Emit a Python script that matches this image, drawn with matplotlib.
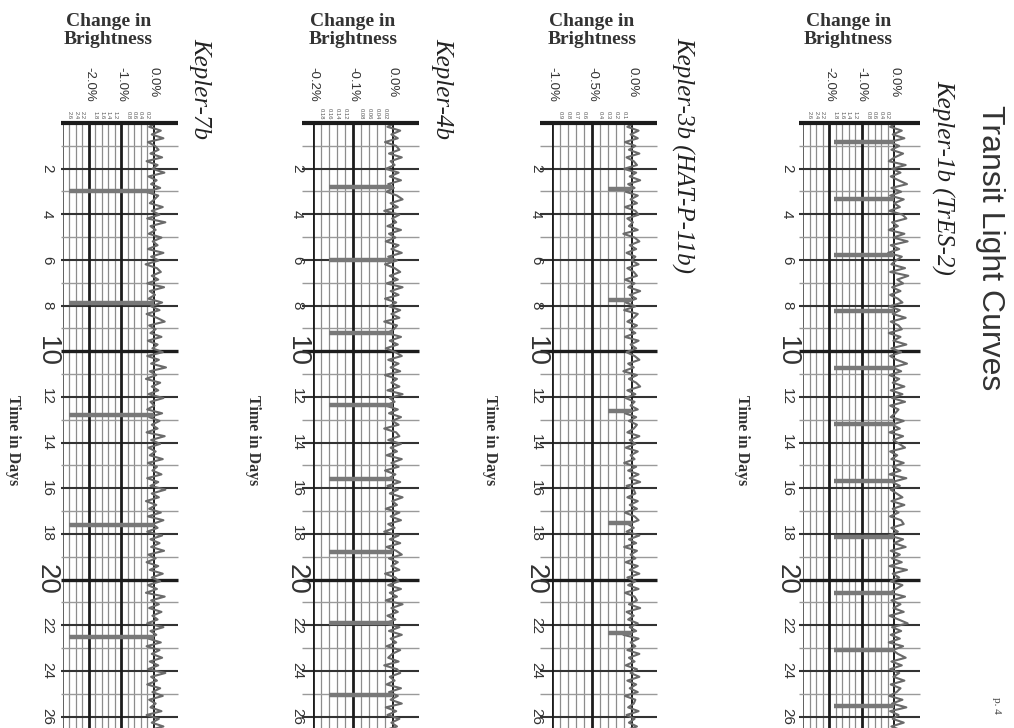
import numpy as np
import matplotlib.pyplot as plt

plt.rcParams['font.family'] = 'Liberation Sans'

# ---- data ----
planet_names = ['Kepler-7b', 'Kepler-4b', 'Kepler-3b (HAT-P-11b)', 'Kepler-1b (TrES-2)']
day_ticks = [2, 4, 6, 8, 10, 12, 14, 16, 18, 20, 22, 24, 26]

# transit mid-times (days) and transit depth (% change in brightness)
transits_7b = [3.0, 7.9, 12.8, 17.6, 22.5]
transits_4b = [2.8, 6.0, 9.2, 12.35, 15.6, 18.8, 21.9, 25.05]
transits_3b = [2.9, 7.75, 12.6, 17.5, 22.35]
transits_1b = [0.84, 3.31, 5.78, 8.25, 10.72, 13.19, 15.66, 18.13, 20.6, 23.07, 25.54]
depths = [-2.6, -0.16, -0.3, -1.85]

# major / minor brightness ticks (%)
major_7b = [-2.0, -1.0, 0.0]
major_4b = [-0.2, -0.1, 0.0]
major_3b = [-1.0, -0.5, 0.0]
major_1b = [-2.0, -1.0, 0.0]
major_labels_7b = ['-2.0%', '-1.0%', '0.0%']
major_labels_4b = ['-0.2%', '-0.1%', '0.0%']
major_labels_3b = ['-1.0%', '-0.5%', '0.0%']
major_labels_1b = ['-2.0%', '-1.0%', '0.0%']
minor_7b = [-2.6, -2.4, -2.2, -1.8, -1.6, -1.4, -1.2, -0.8, -0.6, -0.4, -0.2]
minor_4b = [-0.18, -0.16, -0.14, -0.12, -0.08, -0.06, -0.04, -0.02]
minor_3b = [-0.9, -0.8, -0.7, -0.6, -0.4, -0.3, -0.2, -0.1]
minor_1b = [-2.6, -2.4, -2.2, -1.8, -1.6, -1.4, -1.2, -0.8, -0.6, -0.4, -0.2]
minor_labels_7b = ['2.6', '2.4', '2.2', '1.8', '1.6', '1.4', '1.2', '0.8', '0.6', '0.4', '0.2']
minor_labels_4b = ['0.18', '0.16', '0.14', '0.12', '0.08', '0.06', '0.04', '0.02']
minor_labels_3b = ['0.9', '0.8', '0.7', '0.6', '0.4', '0.3', '0.2', '0.1']
minor_labels_1b = ['2.6', '2.4', '2.2', '1.8', '1.6', '1.4', '1.2', '0.8', '0.6', '0.4', '0.2']

# out-of-transit scatter, estimated (7b, 3b, 1b in 0.01 %, 4b in 0.001 %)
noise_7b = [8, -14, 22, -6, 30, -18, 4, 15, -10, 26, -22, 12, -4, 33, -16, 9, -8, 20, -24, 14,
            2, -12, 28, -6, 18, -20, 36, -10, 6, -15, 24, -3, 12, -18, 30, -8, 16, -25, 10, 22,
            -6, 14, -20, 32, -12, 4, -16, 26, -8, 18, -22, 10, 34, -14, 6, -10, 24, -18, 12, -4,
            28, -20, 16, -8, 38, -12, 8, -24, 20, -6, 14, -16, 30, -10, 2, -20, 26, -14, 18, -6,
            12, -22, 34, -8, 20, -16, 6, -12, 28, -18, 10, -4, 24, -20, 14, -10, 36, -6, 16, -24,
            8, -14, 22, -18, 30, -4, 12, -20, 26, -10, 18, -8, 32, -16, 6, -22, 14, -12, 28, -6,
            20, -18, 10, -24, 34, -8, 16, -14, 24, -4, 12, -20, 30, -10, 8, -16, 22, -22, 18, -6,
            26, -12, 14, -18, 36, -8, 10, -20, 20, -4, 28, -14, 6, -10, 24, -22, 16, -6, 30, -16]
noise_4b = [6, -14, 18, -4, 12, -20, 8, 16, -10, 22, -6, 4, -18, 14, -8, 20, -12, 2, -16, 10,
            24, -6, 12, -22, 16, -2, 8, -14, 20, -10, 6, -18, 14, -4, 22, -12, 10, -20, 4, 18,
            -8, 12, -16, 24, -6, 14, -20, 8, -10, 18, -4, 16, -22, 10, 2, -14, 20, -8, 12, -18,
            6, 22, -12, 14, -6, 18, -20, 10, -4, 16, -14, 24, -8, 4, -18, 12, -10, 20, -2, 14,
            -22, 8, 16, -12, 20, -6, 10, -16, 22, -4, 14, -20, 6, -10, 18, -14, 12, -8, 24, -2,
            10, -18, 16, -6, 20, -12, 4, -22, 14, -8, 18, -16, 8, 22, -10, 12, -4, 16, -20, 6,
            14, -12, 20, -8, 10, -18, 24, -4, 12, -14, 6, -20, 16, -10, 22, -6, 8, -16, 18, -2,
            -12, 14, -22, 10, 18, -8, 4, -16, 20, -10, 12, -6, 22, -18, 8, -14, 16, -4, 10, -20]
noise_3b = [3, -6, 8, -2, 7, -9, 4, -4, 9, -7, 2, 6, -10, 5, -3, 10, -5, 3, -8, 7,
            -2, 6, -9, 4, 8, -6, 1, -4, 7, -11, 3, 9, -3, 5, -7, 4, -1, 8, -6, 2,
            6, -9, 3, -5, 10, -3, 5, -8, 4, -10, 7, 2, -6, 6, -3, 4, -9, 8, -2, 5,
            -7, 3, 9, -5, 2, -11, 6, -4, 5, 10, -6, 4, -8, 3, -2, 7, -9, 5, -4, 6,
            2, -6, 9, -3, 4, -8, 7, -2, 3, -10, 5, -5, 8, -3, 10, -7, 2, 4, -6, 7,
            -3, 6, -9, 3, 8, -5, 2, -7, 9, -4, 5, -10, 6, -2, 4, -8, 7, -3, 9, -6,
            4, -5, 8, -9, 3, 6, -4, 10, -7, 2, -5, 7, -3, 5, -11, 8, -2, 4, -6, 9,
            -4, 3, -8, 6, -2, 9, -6, 5, -3, 7, -9, 4, 2, -5, 8, -7, 3, -4, 6, -8]
noise_1b = [10, -12, 24, -4, 32, -14, 16, -8, 28, 2, -16, 36, -6, 20, -10, 14, 40, -8, 22, -12,
            30, 0, 18, -14, 26, 38, -6, 12, -16, 32, -2, 42, -10, 16, -18, 24, 6, -8, 34, -12,
            44, 10, 28, -6, 20, -12, 12, 26, -14, 18, -4, 36, -10, 14, 24, -16, 20, -2, 38, -8,
            22, -12, 8, 40, -6, 22, -14, 16, -4, 32, -10, 26, -6, 34, -12, 14, 4, -10, 30, -6,
            18, -14, 28, -2, 16, 34, -12, 10, -8, 30, -4, 20, -14, 38, -6, 18, -10, 8, 26, -8,
            32, -4, 14, -12, 22, 30, -8, 12, -16, 28, 0, 36, -10, 18, -6, 24, -14, 40, -4, 16,
            -10, 26, 6, -12, 34, -8, 20, -2, 30, -14, 14, 42, -6, 22, -10, 18, -16, 28, -4, 12,
            36, -8, 24, -12, 16, -2, 32, -10, 20, 8, -14, 26, -6, 38, -12, 14, -4, 30, -8, 22]

# ---- layout (pixels on a 1014 x 728 page) ----
W, H = 1014, 728
TOP = 123          # pixel row of day 0
T_END = 26.5       # day at the bottom edge of the page

panels = [
    # left px, right px, xlim, majors, major labels, minors, minor labels, noise, noise unit, transits
    (63, 178, (-2.8, 0.75), major_7b, major_labels_7b, minor_7b, minor_labels_7b, noise_7b, 0.01, transits_7b),
    (313, 419, (-0.2, 0.065), major_4b, major_labels_4b, minor_4b, minor_labels_4b, noise_4b, 0.001, transits_4b),
    (552, 657, (-1.0, 0.31), major_3b, major_labels_3b, minor_3b, minor_labels_3b, noise_3b, 0.01, transits_3b),
    (803, 920, (-2.8, 0.8), major_1b, major_labels_1b, minor_1b, minor_labels_1b, noise_1b, 0.01, transits_1b),
]
overhang_px = [2, 11, 12, 4]
title_pos = [(200, 38), (442, 38), (683, 37), (943, 80)]
time_label_x = [13, 253, 490, 742]

fig = plt.figure(figsize=(W / 100, H / 100), dpi=100)
fig.patch.set_facecolor('white')

grey = '#6a6a6a'
ink = '#1c1c1c'

for i, (lpx, rpx, xlim, major, mlab, minor, nlab, noise, unit, transits) in enumerate(panels):
    ax = fig.add_axes([lpx / W, 0, (rpx - lpx) / W, 1 - TOP / H])
    ax.set_xlim(*xlim)
    ax.set_ylim(T_END, 0)
    ax.axis('off')
    wpx = rpx - lpx
    over = -overhang_px[i] / wpx

    # vertical grid
    ax.vlines(minor, 0, T_END, color='#8c8c8c', lw=0.9, zorder=1)
    ax.vlines([xlim[0]], 0, T_END, color='#444444', lw=1.2, zorder=1)
    ax.vlines(major[:-1], 0, T_END, color=ink, lw=2.0, zorder=2)

    # horizontal day lines
    ytr = ax.get_yaxis_transform()
    for d in range(1, 27):
        if d in (10, 20):
            c, lw = ink, 2.4
        elif d % 2 == 0:
            c, lw = '#333333', 1.5
        else:
            c, lw = '#9a9a9a', 1.0
        ax.hlines(d, over, 1.0, transform=ytr, color=c, lw=lw, clip_on=False, zorder=1)
    ax.hlines(0, over, 1.0, transform=ytr, color=ink, lw=3.0, clip_on=False, zorder=5)

    # light curve
    t = np.linspace(0, 26.6, len(noise))
    flux = np.array(noise) * unit
    ax.vlines([0], 0, T_END, color=ink, lw=1.4, zorder=2)
    ax.plot(flux, t, color=grey, lw=1.5, zorder=3)
    ax.hlines(transits, depths[i], 0, color='#787878', lw=3.2, zorder=3)

    # time tick labels
    for d in day_ticks:
        fs = 20 if d in (10, 20) else 11
        ax.text(-16 / wpx, d, str(d), transform=ytr, rotation=270, ha='center', va='center',
                fontsize=fs, color='#333333', clip_on=False)

    # brightness labels above the grid
    xtr = ax.get_xaxis_transform()
    hpx = H - TOP
    for v, s in zip(major, mlab):
        ax.text(v, 1 + (TOP - 67) / hpx, s, transform=xtr, rotation=270, ha='center', va='top',
                fontsize=9.5, color='#333333', clip_on=False)
    for v, s in zip(minor, nlab):
        ax.text(v, 1 + (TOP - 119) / hpx, s, transform=xtr, rotation=270, ha='center', va='bottom',
                fontsize=4.2, color='#555555', clip_on=False)

    # "Change in Brightness"
    zero_px = lpx + (0 - xlim[0]) / (xlim[1] - xlim[0]) * wpx
    fig.text((lpx + zero_px) / 2 / W, 1 - 13 / H, 'Change in\nBrightness', ha='center', va='top',
             fontsize=14, fontweight='bold', family='Liberation Serif', color='#333333', linespacing=1.05)

    # planet name
    tx, ty = title_pos[i]
    fig.text(tx / W, 1 - ty / H, planet_names[i], rotation=270, ha='center', va='top',
             fontsize=18, style='italic', family='Liberation Serif', color='#222222')

    # time axis title
    fig.text(time_label_x[i] / W, 1 - 440 / H, 'Time in Days', rotation=270, ha='center', va='center',
             fontsize=11.5, fontweight='bold', family='Liberation Serif', color='#333333')

fig.text(990 / W, 1 - 105 / H, 'Transit Light Curves', rotation=270, ha='center', va='top',
         fontsize=23, color='#333333')
fig.text(997 / W, 1 - 705 / H, 'p. 4', rotation=270, ha='center', va='center',
         fontsize=8, family='Liberation Serif', color='#444444')

fig.savefig('out.png', dpi=100, facecolor='white')
